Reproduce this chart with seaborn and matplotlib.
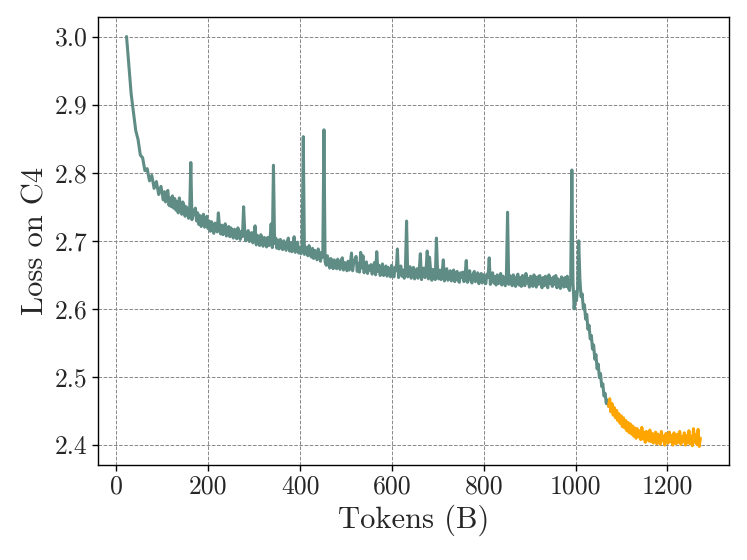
import numpy as np
import pandas as pd
import matplotlib
matplotlib.use("Agg")
import matplotlib.pyplot as plt
import seaborn as sns

# ---- data (loss on C4 vs. training tokens in billions) ----
# early warm part, sampled every 5B starting at 22B
early_start, early_step = 22.0, 5.0
loss_early = [
    3.000, 2.957, 2.916, 2.889, 2.862, 2.849, 2.826, 2.822, 2.803, 2.806,
    2.788, 2.796, 2.777, 2.787, 2.768, 2.780, 2.760,
]

# plateau + cooldown, sampled every 2.5B starting at 104.5B
main_start, main_step = 104.5, 2.5
loss_main = [
    2.772, 2.757, 2.771, 2.774, 2.752, 2.763, 2.750, 2.766, 2.748, 2.762,
    2.745, 2.758, 2.741, 2.763, 2.749, 2.739, 2.757, 2.752, 2.736, 2.750,
    2.747, 2.733, 2.744, 2.815, 2.731, 2.745, 2.738, 2.748, 2.729, 2.741,
    2.724, 2.737, 2.721, 2.733, 2.739, 2.720, 2.730, 2.736, 2.718, 2.729,
    2.714, 2.728, 2.719, 2.711, 2.726, 2.724, 2.713, 2.741, 2.720, 2.710,
    2.723, 2.709, 2.718, 2.725, 2.707, 2.716, 2.721, 2.706, 2.719, 2.711,
    2.704, 2.717, 2.709, 2.703, 2.719, 2.712, 2.702, 2.714, 2.706, 2.750,
    2.713, 2.700, 2.710, 2.715, 2.699, 2.706, 2.712, 2.697, 2.708, 2.722,
    2.694, 2.708, 2.698, 2.693, 2.709, 2.703, 2.692, 2.705, 2.700, 2.691,
    2.705, 2.693, 2.702, 2.725, 2.690, 2.811, 2.696, 2.704, 2.689, 2.701,
    2.688, 2.702, 2.696, 2.687, 2.700, 2.693, 2.686, 2.699, 2.704, 2.685,
    2.697, 2.684, 2.692, 2.706, 2.683, 2.695, 2.698, 2.682, 2.690, 2.681,
    2.694, 2.853, 2.680, 2.691, 2.686, 2.678, 2.693, 2.684, 2.676, 2.689,
    2.674, 2.686, 2.679, 2.672, 2.688, 2.681, 2.670, 2.683, 2.676, 2.863,
    2.669, 2.664, 2.678, 2.667, 2.660, 2.674, 2.670, 2.659, 2.672, 2.663,
    2.659, 2.673, 2.666, 2.658, 2.671, 2.675, 2.657, 2.668, 2.662, 2.656,
    2.670, 2.657, 2.666, 2.682, 2.656, 2.669, 2.672, 2.677, 2.655, 2.667,
    2.654, 2.683, 2.660, 2.678, 2.653, 2.666, 2.669, 2.652, 2.663, 2.657,
    2.665, 2.651, 2.661, 2.668, 2.650, 2.684, 2.655, 2.664, 2.649, 2.660,
    2.666, 2.649, 2.658, 2.663, 2.648, 2.661, 2.654, 2.647, 2.664, 2.652,
    2.647, 2.661, 2.656, 2.688, 2.646, 2.659, 2.663, 2.648, 2.657, 2.645,
    2.660, 2.729, 2.647, 2.658, 2.662, 2.645, 2.655, 2.661, 2.644, 2.652,
    2.659, 2.645, 2.656, 2.681, 2.643, 2.654, 2.660, 2.646, 2.657, 2.685,
    2.644, 2.676, 2.655, 2.642, 2.658, 2.652, 2.643, 2.704, 2.656, 2.644,
    2.657, 2.643, 2.653, 2.672, 2.641, 2.655, 2.659, 2.642, 2.651, 2.656,
    2.641, 2.654, 2.657, 2.640, 2.650, 2.655, 2.642, 2.639, 2.653, 2.646,
    2.654, 2.640, 2.650, 2.671, 2.639, 2.652, 2.656, 2.641, 2.638, 2.651,
    2.655, 2.640, 2.648, 2.653, 2.637, 2.645, 2.652, 2.638, 2.650, 2.644,
    2.637, 2.651, 2.646, 2.675, 2.636, 2.649, 2.653, 2.638, 2.647, 2.635,
    2.650, 2.637, 2.645, 2.652, 2.635, 2.648, 2.641, 2.634, 2.651, 2.742,
    2.636, 2.649, 2.644, 2.634, 2.650, 2.640, 2.633, 2.647, 2.651, 2.635,
    2.646, 2.633, 2.649, 2.641, 2.634, 2.652, 2.638, 2.645, 2.632, 2.648,
    2.639, 2.633, 2.650, 2.644, 2.632, 2.647, 2.636, 2.649, 2.640, 2.631,
    2.646, 2.634, 2.648, 2.639, 2.631, 2.650, 2.637, 2.645, 2.633, 2.647,
    2.636, 2.649, 2.631, 2.644, 2.638, 2.630, 2.647, 2.641, 2.632, 2.646,
    2.633, 2.648, 2.631, 2.627, 2.645,
    # cooldown
    2.804, 2.640, 2.600, 2.625, 2.612, 2.630, 2.700, 2.645, 2.618, 2.622,
    2.600, 2.606, 2.585, 2.592, 2.570, 2.576, 2.556, 2.561, 2.541, 2.547,
    2.526, 2.533, 2.512, 2.519, 2.499, 2.505, 2.486, 2.490, 2.472, 2.476,
    2.461, 2.466, 2.457,
]

# annealing phase (orange), sampled every 2.5B starting at 1072B
anneal_start, anneal_step = 1072.0, 2.5
loss_anneal = [
    2.457, 2.468, 2.449, 2.461, 2.444, 2.455, 2.440, 2.451, 2.436, 2.446,
    2.432, 2.443, 2.427, 2.440, 2.425, 2.436, 2.421, 2.433, 2.418, 2.431,
    2.416, 2.428, 2.413, 2.425, 2.410, 2.424, 2.412, 2.421, 2.408, 2.426,
    2.409, 2.419, 2.404, 2.420, 2.411, 2.406, 2.422, 2.405, 2.417, 2.403,
    2.414, 2.419, 2.402, 2.416, 2.408, 2.401, 2.420, 2.406, 2.413, 2.400,
    2.417, 2.409, 2.403, 2.419, 2.405, 2.414, 2.400, 2.418, 2.407, 2.402,
    2.416, 2.404, 2.420, 2.401, 2.412, 2.405, 2.418, 2.400, 2.414, 2.403,
    2.421, 2.402, 2.413, 2.399, 2.424, 2.404, 2.415, 2.401, 2.423, 2.398,
    2.410,
]

x_ticks = [0, 200, 400, 600, 800, 1000, 1200]
y_ticks = [2.4, 2.5, 2.6, 2.7, 2.8, 2.9, 3.0]

tokens_early = early_start + early_step * np.arange(len(loss_early))
tokens_main = main_start + main_step * np.arange(len(loss_main))
tokens_anneal = anneal_start + anneal_step * np.arange(len(loss_anneal))

df_main = pd.DataFrame({
    "tokens": np.concatenate([tokens_early, tokens_main]),
    "loss": loss_early + loss_main,
})
df_anneal = pd.DataFrame({"tokens": tokens_anneal, "loss": loss_anneal})

sns.set_style("ticks")
plt.rcParams["font.family"] = ["cmr10", "DejaVu Serif"]
plt.rcParams["mathtext.fontset"] = "cm"
plt.rcParams["axes.formatter.use_mathtext"] = True
plt.rcParams["axes.unicode_minus"] = False

fig = plt.figure(figsize=(7.47, 5.6), dpi=100)
ax = fig.add_axes([0.131, 0.170, 0.845, 0.800])

teal = "#5f8d85"
orange = "#ffa500"
sns.lineplot(data=df_main, x="tokens", y="loss", color=teal, linewidth=2.2,
             ax=ax, sort=False, estimator=None)
sns.lineplot(data=df_anneal, x="tokens", y="loss", color=orange, linewidth=2.2,
             ax=ax, sort=False, estimator=None)

ax.set_ylim(2.371, 3.029)
ax.set_xticks(x_ticks)
ax.set_xticklabels([str(t) for t in x_ticks])
ax.set_yticks(y_ticks)
ax.set_yticklabels([f"{t:.1f}" for t in y_ticks])
ax.grid(True, linestyle="--", color="#888888", linewidth=0.7)
ax.set_axisbelow(True)
for s in ax.spines.values():
    s.set_color("black")
    s.set_linewidth(1.0)
ax.tick_params(axis="both", labelsize=18.5, color="black", length=4,
               width=1.0, direction="out")
ax.set_xlabel("Tokens (B)", fontsize=22)
ax.set_ylabel("Loss on C4", fontsize=22)

fig.savefig("out.png", dpi=100)
